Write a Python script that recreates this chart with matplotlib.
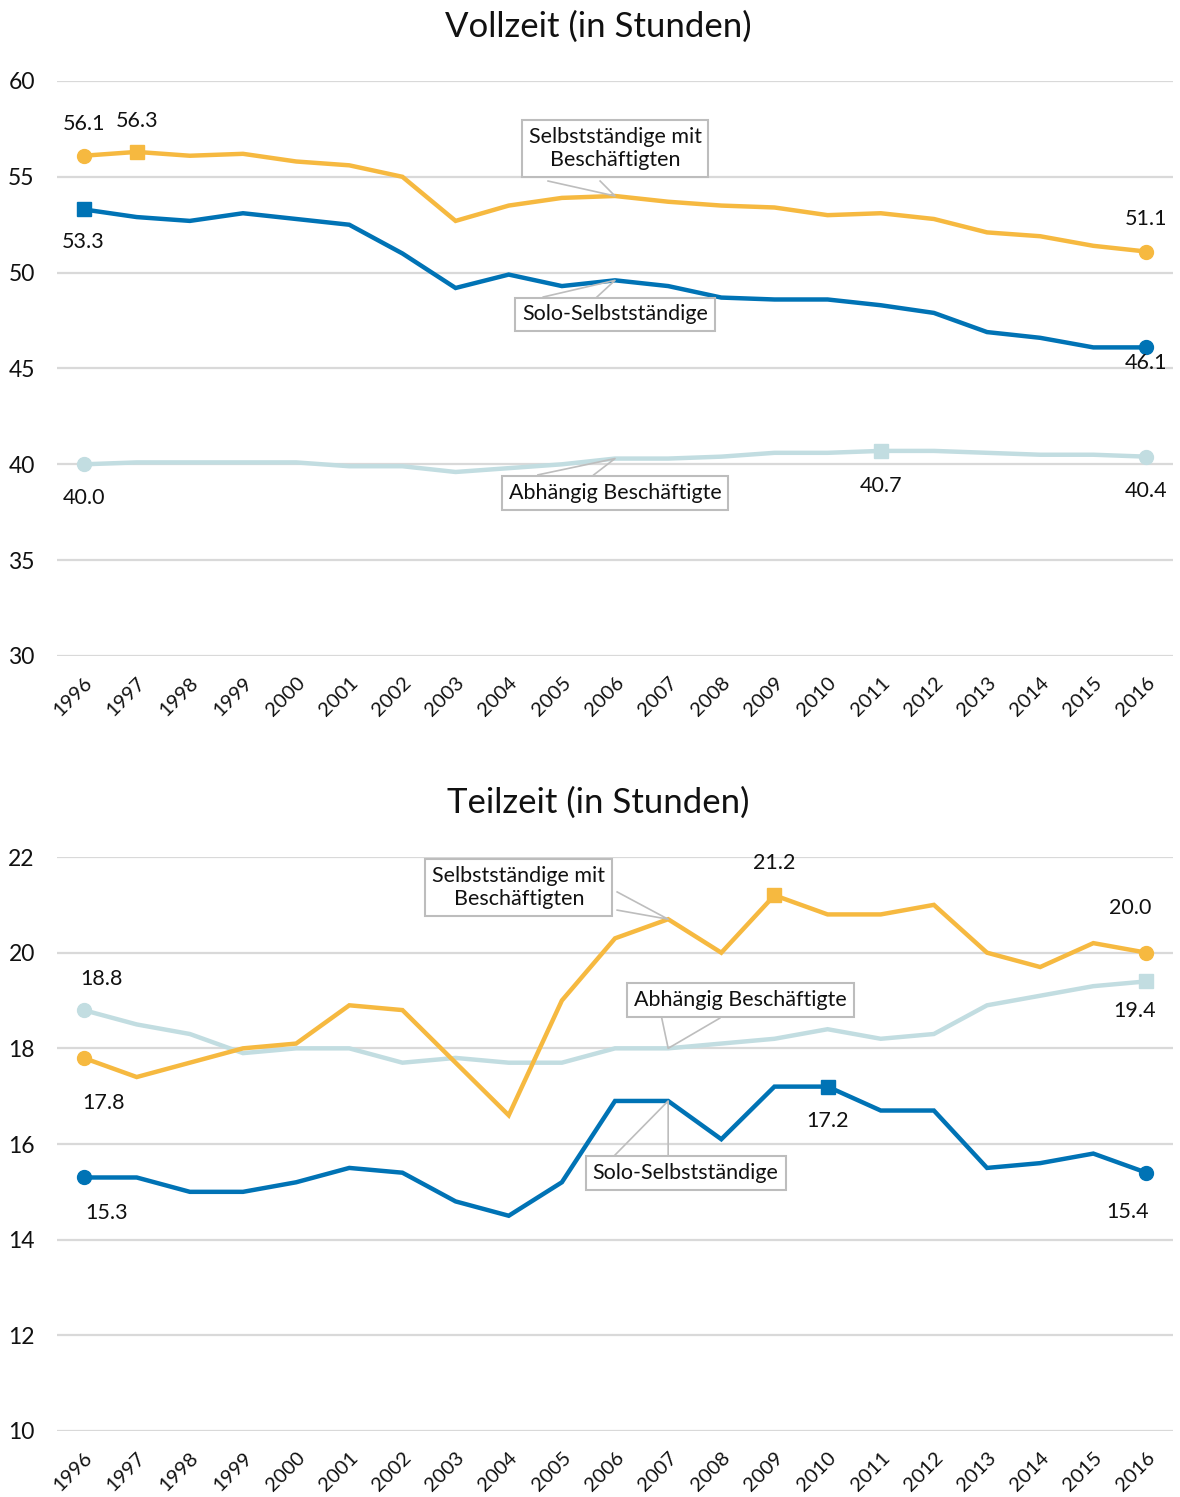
import matplotlib.pyplot as plt

plt.rcParams['font.family'] = ['Lato', 'DejaVu Sans']

years = list(range(1996, 2017))

# Vollzeit (in Stunden)
vz_selbst_mit = [56.1, 56.3, 56.1, 56.2, 55.8, 55.6, 55.0, 52.7, 53.5, 53.9, 54.0,
                 53.7, 53.5, 53.4, 53.0, 53.1, 52.8, 52.1, 51.9, 51.4, 51.1]
vz_solo = [53.3, 52.9, 52.7, 53.1, 52.8, 52.5, 51.0, 49.2, 49.9, 49.3, 49.6,
           49.3, 48.7, 48.6, 48.6, 48.3, 47.9, 46.9, 46.6, 46.1, 46.1]
vz_abh = [40.0, 40.1, 40.1, 40.1, 40.1, 39.9, 39.9, 39.6, 39.8, 40.0, 40.3,
          40.3, 40.4, 40.6, 40.6, 40.7, 40.7, 40.6, 40.5, 40.5, 40.4]

# Teilzeit (in Stunden)
tz_selbst_mit = [17.8, 17.4, 17.7, 18.0, 18.1, 18.9, 18.8, 17.7, 16.6, 19.0, 20.3,
                 20.7, 20.0, 21.2, 20.8, 20.8, 21.0, 20.0, 19.7, 20.2, 20.0]
tz_solo = [15.3, 15.3, 15.0, 15.0, 15.2, 15.5, 15.4, 14.8, 14.5, 15.2, 16.9,
           16.9, 16.1, 17.2, 17.2, 16.7, 16.7, 15.5, 15.6, 15.8, 15.4]
tz_abh = [18.8, 18.5, 18.3, 17.9, 18.0, 18.0, 17.7, 17.8, 17.7, 17.7, 18.0,
          18.0, 18.1, 18.2, 18.4, 18.2, 18.3, 18.9, 19.1, 19.3, 19.4]

names = ["Selbstständige mit\nBeschäftigten", "Solo-Selbstständige", "Abhängig Beschäftigte"]

ORANGE = "#f6b940"
BLUE = "#0073b5"
LIGHT = "#c2dde1"
GRID = "#d9d9d9"
BOXEDGE = "#bdbdbd"
TXT = "#111111"


def draw_series(ax, y, color, circles, squares, labels):
    ax.plot(years, y, color=color, lw=3.2, solid_joinstyle="miter", zorder=3)
    ax.plot([years[i] for i in circles], [y[i] for i in circles], "o",
            color=color, ms=10, zorder=4)
    ax.plot([years[i] for i in squares], [y[i] for i in squares], "s",
            color=color, ms=9.5, zorder=4)
    for i, dx, dy in labels:
        ax.annotate(f"{y[i]:.1f}", (years[i], y[i]), xytext=(dx, dy),
                    textcoords="offset pixels", ha="center", va="center",
                    fontsize=15.5, color=TXT, zorder=5)


def callout(ax, text, center, base, tip):
    (x1, y1), (x2, y2) = base
    ax.plot([x1, tip[0], x2], [y1, tip[1], y2], color=BOXEDGE, lw=1.2, zorder=5)
    ax.text(center[0], center[1], text, ha="center", va="center", fontsize=15.5,
            color=TXT, linespacing=1.2, zorder=6,
            bbox=dict(boxstyle="square,pad=0.32", fc="white", ec=BOXEDGE, lw=1.5))


def style_axes(ax, ylim, yticks):
    ax.set_xlim(1995.5, 2016.5)
    ax.set_ylim(*ylim)
    ax.set_yticks(yticks)
    ax.set_xticks(years)
    ax.set_xticklabels([str(v) for v in years], rotation=45, ha="right",
                       va="top", rotation_mode="anchor")
    ax.tick_params(axis="both", length=0, colors=TXT)
    ax.tick_params(axis="y", pad=16, labelsize=16.5)
    ax.tick_params(axis="x", pad=13, labelsize=14.5)
    ax.grid(axis="y", color=GRID, lw=1.6)
    ax.set_axisbelow(True)
    for s in ax.spines.values():
        s.set_visible(False)


fig = plt.figure(figsize=(11.8, 14.97), dpi=100)

fig.text(0.507, 1 - 27 / 1497, "Vollzeit (in Stunden)", ha="center", va="center",
         fontsize=25, color=TXT)
fig.text(0.507, 1 - 803 / 1497, "Teilzeit (in Stunden)", ha="center", va="center",
         fontsize=25, color=TXT)

# oberes Diagramm
ax1 = fig.add_axes([0.0483, 0.5618, 0.9458, 0.3841])
style_axes(ax1, (30, 60), [30, 35, 40, 45, 50, 55, 60])
draw_series(ax1, vz_abh, LIGHT, [0, 20], [15], [(0, 0, -34), (15, 0, -35), (20, 0, -34)])
draw_series(ax1, vz_solo, BLUE, [20], [0], [(0, 0, -33), (20, 0, -16)])
draw_series(ax1, vz_selbst_mit, ORANGE, [0, 20], [1], [(0, 0, 32), (1, 0, 31), (20, 0, 33)])
callout(ax1, names[0], (2006.0, 56.48), ((2004.74, 54.78), (2005.72, 54.78)), (years[10], vz_selbst_mit[10]))
callout(ax1, names[1], (2006.0, 47.82), ((2004.65, 48.73), (2005.66, 48.73)), (years[10], vz_solo[10]))
callout(ax1, names[2], (2006.0, 38.5), ((2004.55, 39.45), (2005.6, 39.45)), (years[10], vz_abh[10]))

# unteres Diagramm
ax2 = fig.add_axes([0.0483, 0.0441, 0.9458, 0.3834])
style_axes(ax2, (10, 22), [10, 12, 14, 16, 18, 20, 22])
draw_series(ax2, tz_abh, LIGHT, [0], [20], [(0, 18, 31), (20, -12, -30)])
draw_series(ax2, tz_solo, BLUE, [0, 20], [14], [(0, 23, -36), (14, 0, -34), (20, -19, -39)])
draw_series(ax2, tz_selbst_mit, ORANGE, [0, 20], [13], [(0, 20, -45), (13, 0, 32), (20, -16, 45)])
callout(ax2, names[0], (2004.19, 21.36), ((2006.04, 21.27), (2006.04, 20.89)), (years[11], tz_selbst_mit[11]))
callout(ax2, names[2], (2008.36, 19.01), ((2006.88, 18.63), (2007.97, 18.63)), (years[11], tz_abh[11]))
callout(ax2, names[1], (2007.33, 15.40), ((2006.0, 15.77), (2007.0, 15.77)), (years[11], tz_solo[11]))

fig.savefig("out.png", dpi=100)
